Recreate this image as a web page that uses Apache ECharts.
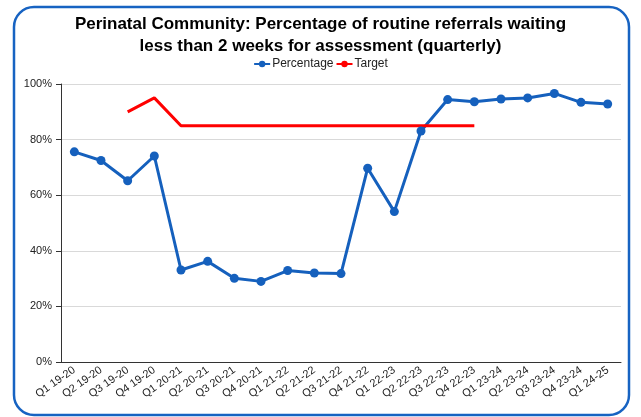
<!DOCTYPE html>
<html>
<head>
<meta charset="utf-8">
<script src="https://cdn.jsdelivr.net/npm/echarts@6/dist/echarts.min.js"></script>
<style>
  html, body { margin: 0; padding: 0; background: #fff; }
  #chart { width: 641px; height: 417px; }
</style>
</head>
<body>
<div id="chart"></div>
<script>
let quarters = [
  'Q1 19-20', 'Q2 19-20', 'Q3 19-20', 'Q4 19-20',
  'Q1 20-21', 'Q2 20-21', 'Q3 20-21', 'Q4 20-21',
  'Q1 21-22', 'Q2 21-22', 'Q3 21-22', 'Q4 21-22',
  'Q1 22-23', 'Q2 22-23', 'Q3 22-23', 'Q4 22-23',
  'Q1 23-24', 'Q2 23-24', 'Q3 23-24', 'Q4 23-24',
  'Q1 24-25'
]
let percentage = [
  75.6, 72.5, 65.2, 74.1,
  33.1, 36.2, 30.1, 29.0,
  32.9, 32.0, 31.8, 69.7,
  54.1, 83.1, 94.4, 93.6,
  94.6, 95.0, 96.6, 93.4,
  92.8
]
let target = [
  null, null, 90, 95,
  85, 85, 85, 85,
  85, 85, 85, 85,
  85, 85, 85, 85,
  null, null, null, null,
  null
]

let font = 'Liberation Sans, Arial, sans-serif'

let chart = echarts.init(document.getElementById('chart'))
chart.setOption({
  animation: false,
  title: {
    text: 'Perinatal Community: Percentage of routine referrals waiting\nless than 2 weeks for assessment (quarterly)',
    left: 'center',
    top: 8,
    textStyle: {
      fontFamily: font,
      fontSize: 17,
      fontWeight: 'bold',
      color: '#000',
      lineHeight: 22
    }
  },
  legend: {
    top: 53,
    left: 'center',
    itemWidth: 16,
    itemHeight: 8,
    itemGap: 2,
    textStyle: { fontFamily: font, fontSize: 12, color: '#222', padding: [0, 0, 0, -3] },
    data: ['Percentage', 'Target']
  },
  graphic: [{
    type: 'rect',
    shape: { x: 14, y: 7, width: 615, height: 408, r: 20 },
    style: { fill: 'none', stroke: '#1763c2', lineWidth: 2.5 },
    silent: true
  }],
  grid: { left: 61, right: 20, top: 84, bottom: 55 },
  xAxis: {
    type: 'category',
    data: quarters,
    boundaryGap: true,
    axisLine: { lineStyle: { color: '#333', width: 1 } },
    axisTick: { alignWithLabel: true, length: 5, lineStyle: { color: '#333' } },
    axisLabel: {
      rotate: 35,
      interval: 0,
      fontFamily: font,
      fontSize: 11,
      color: '#222',
      margin: 7
    }
  },
  yAxis: {
    type: 'value',
    min: 0,
    max: 100,
    interval: 20,
    axisLine: { show: true, lineStyle: { color: '#333', width: 1 } },
    axisTick: { show: true, length: 5, lineStyle: { color: '#333' } },
    axisLabel: {
      formatter: '{value}%',
      fontFamily: font,
      fontSize: 11,
      color: '#222',
      margin: 9
    },
    splitLine: { lineStyle: { color: '#d9d9d9', width: 1 } }
  },
  series: [{
    name: 'Percentage',
    type: 'line',
    data: percentage,
    symbol: 'circle',
    symbolSize: 9,
    itemStyle: { color: '#1560bd' },
    lineStyle: { color: '#1560bd', width: 3 }
  }, {
    name: 'Target',
    type: 'line',
    data: target,
    symbol: 'none',
    itemStyle: { color: '#ff0000' },
    lineStyle: { color: '#ff0000', width: 3 }
  }]
})
</script>
</body>
</html>
